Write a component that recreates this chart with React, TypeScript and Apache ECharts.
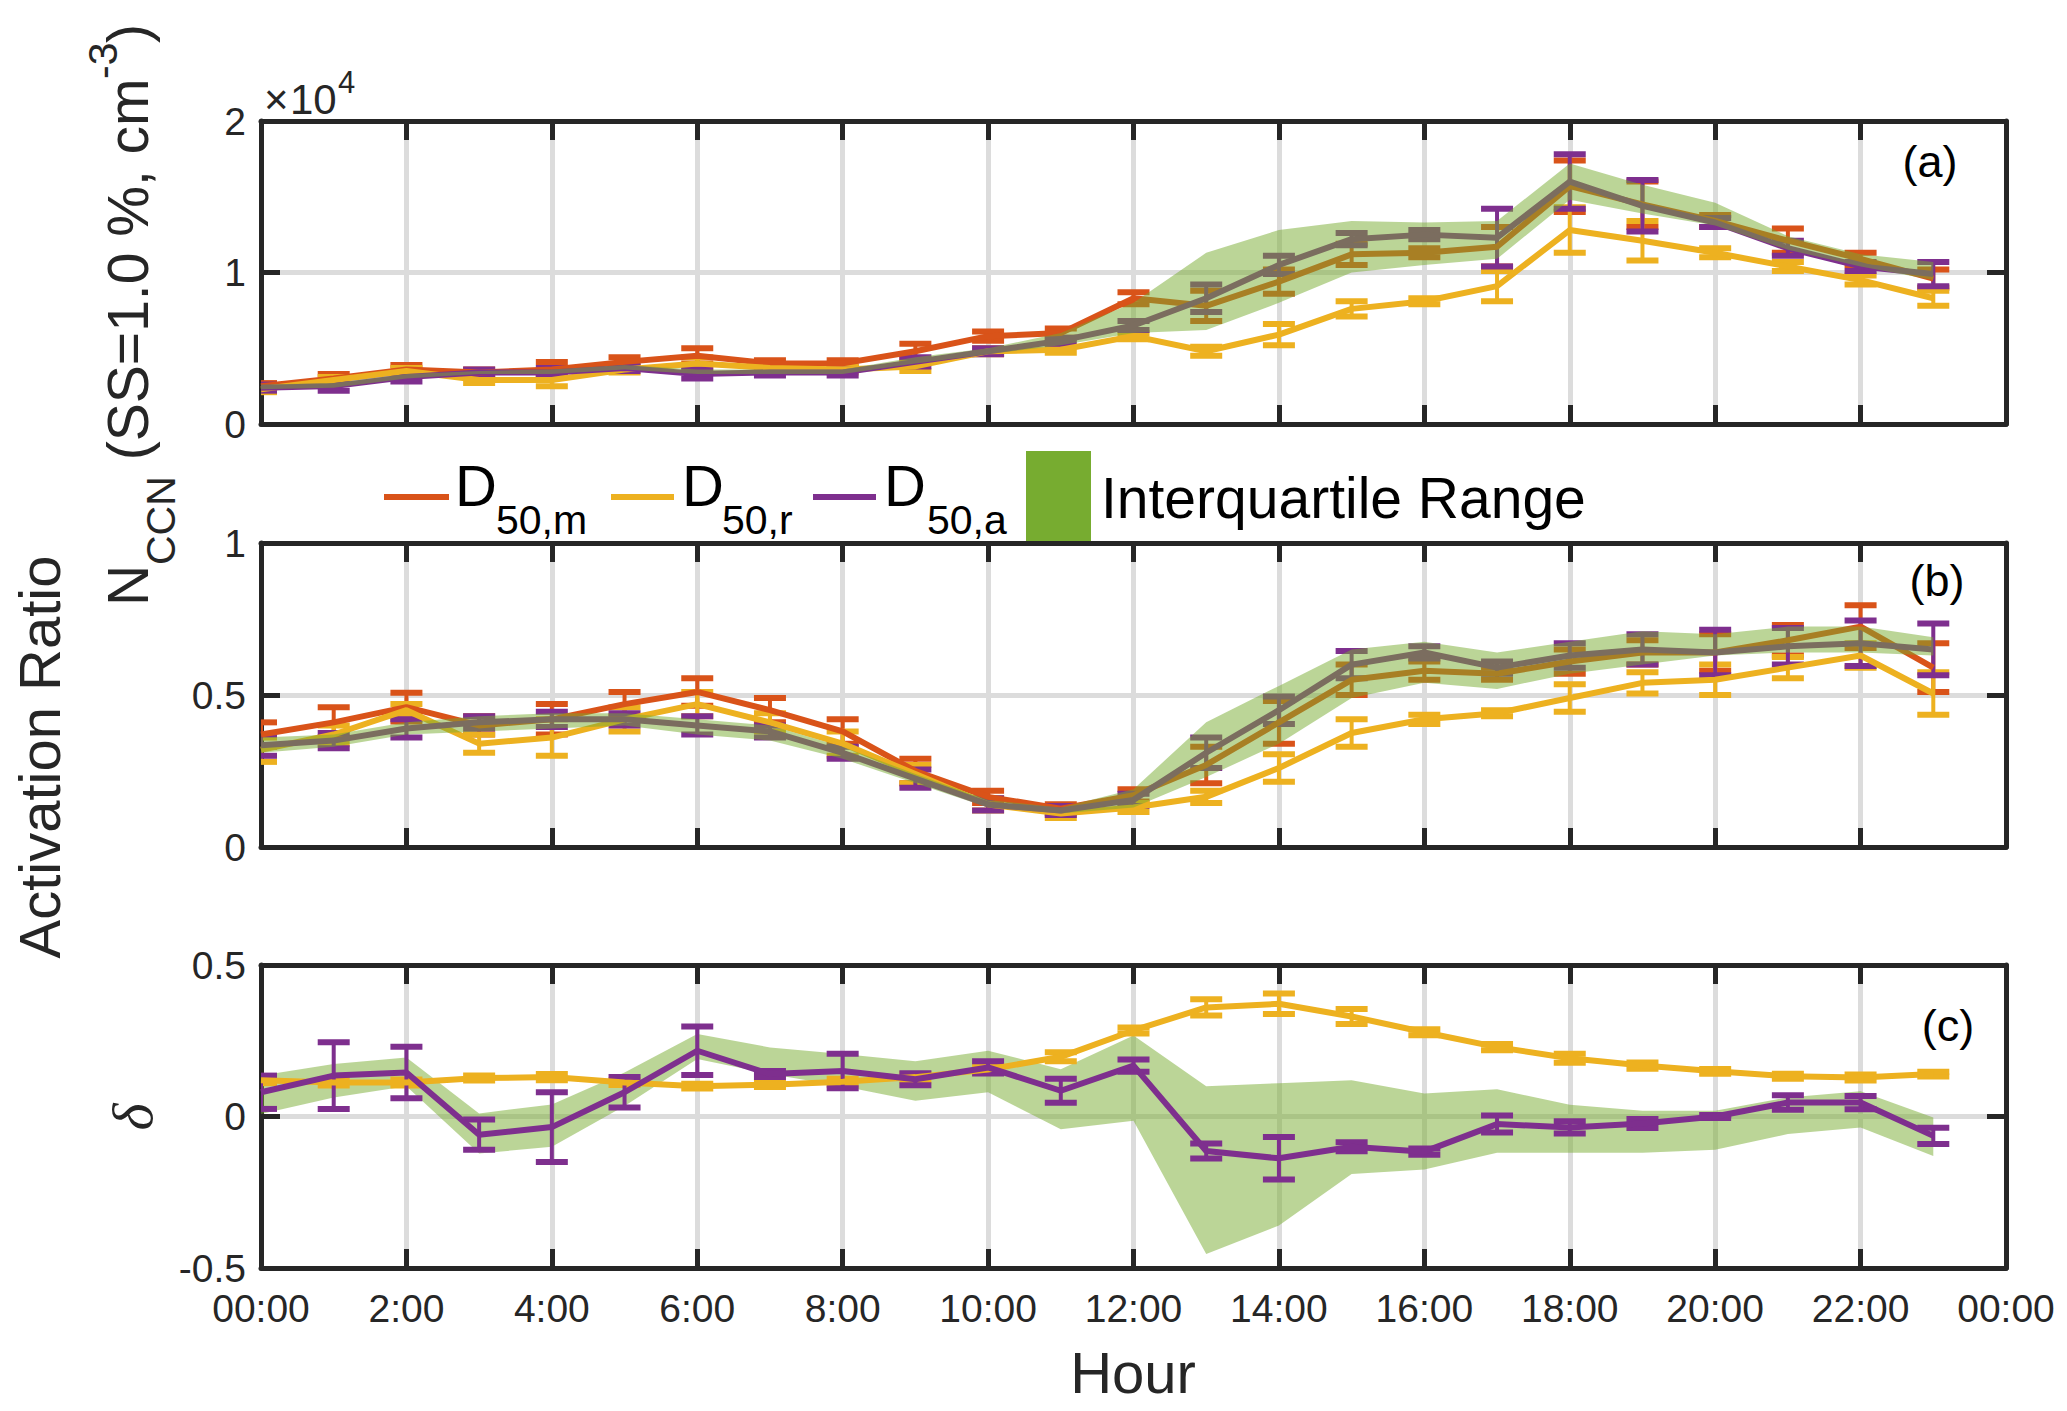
import React, { useEffect, useRef } from 'react';
import * as echarts from 'echarts';

// hours of day (x values)
const hours = [0, 1, 2, 3, 4, 5, 6, 7, 8, 9, 10, 11, 12, 13, 14, 15, 16, 17, 18, 19, 20, 21, 22, 23];
const hourLabels = ['00:00', '2:00', '4:00', '6:00', '8:00', '10:00', '12:00', '14:00', '16:00', '18:00', '20:00', '22:00', '00:00'];

// (a) N_CCN, cm^-3
const nccnM = [2500, 3000, 3600, 3400, 3600, 4100, 4500, 4000, 4000, 4800, 5800, 6000, 8300, 7800, 9400, 11200, 11300, 11700, 15700, 14500, 13400, 12100, 10900, 9600];
const nccnMErr = [200, 300, 300, 200, 500, 300, 500, 200, 200, 500, 300, 300, 400, 1000, 800, 700, 300, 1300, 1700, 1500, 400, 800, 400, 600];
const nccnR = [2300, 2900, 3500, 2900, 2900, 3600, 4000, 3700, 3600, 3800, 4800, 4900, 5800, 4800, 5900, 7600, 8100, 9100, 12800, 12100, 11300, 10400, 9500, 8300];
const nccnRErr = [200, 200, 200, 200, 400, 200, 400, 200, 200, 300, 200, 200, 200, 300, 700, 500, 200, 1000, 1500, 1300, 300, 300, 300, 500];
const nccnA = [2400, 2500, 3100, 3400, 3400, 3700, 3300, 3400, 3400, 4100, 4800, 5500, 6500, 8300, 10500, 12200, 12500, 12300, 16000, 14400, 13300, 11600, 10400, 9900];
const nccnAErr = [200, 300, 300, 200, 300, 200, 300, 200, 200, 300, 200, 200, 300, 900, 600, 400, 300, 1900, 1800, 1700, 300, 500, 300, 800];
const nccnLo = [2300, 2400, 3000, 3300, 3300, 3600, 3300, 3300, 3300, 4000, 4600, 5200, 6000, 6200, 8000, 10000, 10500, 10900, 14800, 13900, 13100, 11500, 10400, 9500];
const nccnHi = [2600, 2700, 3300, 3500, 3600, 3900, 3600, 3600, 3600, 4400, 5000, 6000, 8000, 11300, 12800, 13400, 13300, 13400, 17200, 15800, 14600, 12400, 11200, 10700];

// (b) activation ratio
const arM = [0.37, 0.41, 0.46, 0.4, 0.42, 0.47, 0.51, 0.45, 0.38, 0.25, 0.165, 0.126, 0.17, 0.27, 0.41, 0.55, 0.58, 0.57, 0.61, 0.64, 0.64, 0.68, 0.725, 0.59];
const arMErr = [0.04, 0.05, 0.047, 0.03, 0.05, 0.04, 0.045, 0.04, 0.04, 0.04, 0.02, 0.015, 0.02, 0.06, 0.07, 0.05, 0.03, 0.02, 0.04, 0.04, 0.06, 0.05, 0.07, 0.08];
const arR = [0.32, 0.37, 0.45, 0.34, 0.36, 0.42, 0.47, 0.41, 0.34, 0.24, 0.14, 0.11, 0.13, 0.165, 0.26, 0.375, 0.42, 0.44, 0.49, 0.54, 0.55, 0.59, 0.63, 0.505];
const arRErr = [0.04, 0.03, 0.02, 0.03, 0.06, 0.04, 0.04, 0.03, 0.04, 0.03, 0.02, 0.015, 0.015, 0.02, 0.045, 0.045, 0.015, 0.01, 0.045, 0.035, 0.05, 0.035, 0.04, 0.07];
const arA = [0.335, 0.35, 0.39, 0.41, 0.42, 0.42, 0.4, 0.38, 0.31, 0.225, 0.14, 0.12, 0.155, 0.31, 0.45, 0.6, 0.64, 0.59, 0.63, 0.65, 0.64, 0.66, 0.67, 0.65];
const arAErr = [0.035, 0.025, 0.03, 0.02, 0.025, 0.02, 0.03, 0.02, 0.02, 0.03, 0.02, 0.015, 0.02, 0.05, 0.045, 0.045, 0.02, 0.02, 0.04, 0.05, 0.075, 0.06, 0.075, 0.085];
const arLo = [0.31, 0.33, 0.37, 0.38, 0.39, 0.4, 0.37, 0.35, 0.29, 0.21, 0.13, 0.11, 0.13, 0.23, 0.34, 0.49, 0.54, 0.52, 0.57, 0.6, 0.63, 0.64, 0.64, 0.63];
const arHi = [0.36, 0.37, 0.41, 0.43, 0.44, 0.44, 0.42, 0.4, 0.33, 0.24, 0.155, 0.13, 0.19, 0.41, 0.53, 0.65, 0.675, 0.64, 0.675, 0.71, 0.7, 0.725, 0.725, 0.69];

// (c) delta
const deltaR = [0.12, 0.112, 0.112, 0.127, 0.13, 0.112, 0.1, 0.105, 0.115, 0.13, 0.155, 0.197, 0.284, 0.36, 0.372, 0.33, 0.278, 0.229, 0.192, 0.168, 0.149, 0.133, 0.129, 0.14];
const deltaRErr = [0.01, 0.01, 0.01, 0.008, 0.01, 0.008, 0.008, 0.008, 0.01, 0.01, 0.01, 0.015, 0.01, 0.027, 0.034, 0.025, 0.01, 0.01, 0.015, 0.01, 0.008, 0.008, 0.01, 0.008];
const deltaA = [0.08, 0.135, 0.145, -0.06, -0.035, 0.08, 0.217, 0.14, 0.15, 0.123, 0.162, 0.085, 0.168, -0.114, -0.138, -0.1, -0.116, -0.025, -0.036, -0.023, 0.0, 0.046, 0.046, -0.064];
const deltaAErr = [0.055, 0.11, 0.085, 0.05, 0.115, 0.05, 0.08, 0.01, 0.057, 0.02, 0.02, 0.04, 0.02, 0.025, 0.07, 0.015, 0.01, 0.028, 0.02, 0.015, 0.005, 0.024, 0.022, 0.027];
const deltaLo = [0.008, 0.063, 0.1, -0.122, -0.1, 0.035, 0.19, 0.14, 0.1, 0.052, 0.08, -0.042, -0.014, -0.454, -0.36, -0.19, -0.175, -0.12, -0.12, -0.12, -0.11, -0.058, -0.036, -0.13];
const deltaHi = [0.135, 0.173, 0.195, 0.01, 0.04, 0.145, 0.272, 0.228, 0.206, 0.182, 0.217, 0.156, 0.267, 0.1, 0.11, 0.12, 0.076, 0.09, 0.039, 0.019, 0.019, 0.063, 0.083, -0.003];

const RED = '#D95319';
const YELLOW = '#EDB120';
const PURPLE = '#7E2F8E';
const GREEN = '#77AC30';
const INK = '#262626';
const GRID = '#dcdcdc';
const FONT = 'Liberation Sans';

const grids = [
  { left: 261, top: 121, width: 1745, height: 303 },
  { left: 261, top: 543, width: 1745, height: 304 },
  { left: 261, top: 965, width: 1745, height: 303 },
];
const yRanges = [
  { min: 0, max: 20000, interval: 10000, fmt: (v: number) => String(v / 10000) },
  { min: 0, max: 1, interval: 0.5, fmt: (v: number) => String(v) },
  { min: -0.5, max: 0.5, interval: 0.5, fmt: (v: number) => String(v) },
];

const lineSeries = (g: number, ys: number[], color: string) => ({
  type: 'line',
  xAxisIndex: g * 2,
  yAxisIndex: g * 2,
  data: hours.map((h, i) => [h, ys[i]]),
  symbol: 'none',
  lineStyle: { color, width: 6 },
  z: 2,
  silent: true,
});

const errSeries = (g: number, ys: number[], errs: number[], color: string) => ({
  type: 'custom',
  xAxisIndex: g * 2,
  yAxisIndex: g * 2,
  clip: true,
  z: 2,
  silent: true,
  data: hours.map((h, i) => [h, ys[i] - errs[i], ys[i] + errs[i]]),
  renderItem: (params: any, api: any) => {
    const lo = api.coord([api.value(0), api.value(1)]);
    const hi = api.coord([api.value(0), api.value(2)]);
    const w = 16;
    return {
      type: 'group',
      children: [
        { type: 'line', shape: { x1: lo[0], y1: lo[1], x2: hi[0], y2: hi[1] }, style: { stroke: color, lineWidth: 4 } },
        { type: 'line', shape: { x1: lo[0] - w, y1: lo[1], x2: lo[0] + w, y2: lo[1] }, style: { stroke: color, lineWidth: 6 } },
        { type: 'line', shape: { x1: hi[0] - w, y1: hi[1], x2: hi[0] + w, y2: hi[1] }, style: { stroke: color, lineWidth: 6 } },
      ],
    };
  },
});

const bandSeries = (g: number, lo: number[], hi: number[], z: number) => ({
  type: 'custom',
  xAxisIndex: g * 2,
  yAxisIndex: g * 2,
  clip: true,
  z,
  silent: true,
  data: hours.map((h, i) => [h, lo[i], hi[i]]),
  renderItem: (params: any, api: any) => {
    if (params.dataIndex !== 0) return null;
    const top = hours.map((h, i) => api.coord([h, hi[i]]));
    const bottom = hours.map((h, i) => api.coord([h, lo[i]])).reverse();
    return {
      type: 'polygon',
      shape: { points: top.concat(bottom) },
      style: { fill: GREEN, opacity: 0.5 },
    };
  },
});

const txt = (x: number, y: number, text: string, size: number, extra: any = {}) => ({
  type: 'text',
  x,
  y,
  rotation: extra.rotation || 0,
  style: {
    text,
    x: 0,
    y: 0,
    fill: extra.fill || '#000',
    fontSize: size,
    fontFamily: extra.fontFamily || FONT,
    fontStyle: extra.fontStyle || 'normal',
    align: extra.align || 'center',
    verticalAlign: 'middle',
  },
});

const UP = { rotation: Math.PI / 2, align: 'left', fill: INK };

const App: React.FC = () => {
  const chartRef = useRef<HTMLDivElement>(null);

  useEffect(() => {
    if (!chartRef.current) return;
    document.body.style.margin = '0';
    const chart = echarts.init(chartRef.current, undefined, { renderer: 'svg' });

    const xAxis: any[] = [];
    const yAxis: any[] = [];
    grids.forEach((_, g) => {
      const common = {
        gridIndex: g,
        type: 'value',
        min: 0,
        max: 24,
        interval: 2,
        axisLine: { show: true, onZero: false, lineStyle: { color: INK, width: 5 } },
        axisTick: { show: true, inside: true, length: 19, lineStyle: { color: INK, width: 5 } },
      };
      xAxis.push({
        ...common,
        position: 'bottom',
        axisLabel: {
          show: g === 2,
          fontSize: 39,
          fontFamily: FONT,
          color: INK,
          margin: 21,
          formatter: (v: number) => hourLabels[Math.round(v / 2)],
        },
        splitLine: { show: true, lineStyle: { color: GRID, width: 5 } },
      });
      xAxis.push({ ...common, position: 'top', axisLabel: { show: false }, splitLine: { show: false } });

      const r = yRanges[g];
      const ycommon = {
        gridIndex: g,
        type: 'value',
        min: r.min,
        max: r.max,
        interval: r.interval,
        axisLine: { show: true, onZero: false, lineStyle: { color: INK, width: 5 } },
        axisTick: { show: true, inside: true, length: 19, lineStyle: { color: INK, width: 5 } },
      };
      yAxis.push({
        ...ycommon,
        position: 'left',
        axisLabel: { show: true, fontSize: 39, fontFamily: FONT, color: INK, margin: 15, formatter: r.fmt },
        splitLine: { show: true, lineStyle: { color: GRID, width: 5 } },
      });
      yAxis.push({ ...ycommon, position: 'right', axisLabel: { show: false }, splitLine: { show: false } });
    });

    const series: any[] = [
      lineSeries(0, nccnM, RED),
      errSeries(0, nccnM, nccnMErr, RED),
      lineSeries(0, nccnR, YELLOW),
      errSeries(0, nccnR, nccnRErr, YELLOW),
      lineSeries(0, nccnA, PURPLE),
      errSeries(0, nccnA, nccnAErr, PURPLE),
      bandSeries(0, nccnLo, nccnHi, 5),

      lineSeries(1, arM, RED),
      errSeries(1, arM, arMErr, RED),
      lineSeries(1, arR, YELLOW),
      errSeries(1, arR, arRErr, YELLOW),
      lineSeries(1, arA, PURPLE),
      errSeries(1, arA, arAErr, PURPLE),
      bandSeries(1, arLo, arHi, 5),

      bandSeries(2, deltaLo, deltaHi, 1),
      lineSeries(2, deltaR, YELLOW),
      errSeries(2, deltaR, deltaRErr, YELLOW),
      lineSeries(2, deltaA, PURPLE),
      errSeries(2, deltaA, deltaAErr, PURPLE),
    ];

    const graphic: any[] = [
      // exponent of panel (a)
      txt(264, 99, '×', 42, { align: 'left', fill: INK }),
      txt(290, 99, '10', 42, { align: 'left', fill: INK }),
      txt(338, 82, '4', 31, { align: 'left', fill: INK }),
      // panel tags
      txt(1930, 161, '(a)', 45),
      txt(1937, 580, '(b)', 45),
      txt(1948, 1025, '(c)', 45),
      // axis titles
      txt(1133, 1372, 'Hour', 58, { fill: INK }),
      txt(39, 757, 'Activation Ratio', 58, { rotation: Math.PI / 2, fill: INK }),
      txt(132, 1117, 'δ', 58, { rotation: Math.PI / 2, fill: INK, fontFamily: 'Liberation Serif', fontStyle: 'italic' }),
      // N_CCN (SS=1.0 %, cm^-3), read bottom to top
      txt(128, 606, 'N', 57, UP),
      txt(161, 565, 'CCN', 41, UP),
      txt(128, 476, ' (SS=1.0 %, cm', 57, UP),
      txt(103, 79, '-3', 41, UP),
      txt(128, 43, ')', 57, UP),
      // legend
      { type: 'rect', shape: { x: 1026, y: 451, width: 65, height: 92 }, style: { fill: GREEN } },
      { type: 'line', shape: { x1: 384, y1: 497, x2: 449, y2: 497 }, style: { stroke: RED, lineWidth: 6 } },
      { type: 'line', shape: { x1: 611, y1: 497, x2: 674, y2: 497 }, style: { stroke: YELLOW, lineWidth: 6 } },
      { type: 'line', shape: { x1: 813, y1: 497, x2: 876, y2: 497 }, style: { stroke: PURPLE, lineWidth: 6 } },
      txt(455, 485, 'D', 58, { align: 'left' }),
      txt(496, 520, '50,m', 41, { align: 'left' }),
      txt(682, 485, 'D', 58, { align: 'left' }),
      txt(722, 520, '50,r', 41, { align: 'left' }),
      txt(884, 485, 'D', 58, { align: 'left' }),
      txt(927, 520, '50,a', 41, { align: 'left' }),
      txt(1101, 498, 'Interquartile Range', 57, { align: 'left' }),
    ];

    const option: any = {
      animation: false,
      backgroundColor: '#fff',
      grid: grids.map((g) => ({ ...g, containLabel: false })),
      xAxis,
      yAxis,
      series,
      graphic,
    };

    chart.setOption(option);

    return () => {
      chart.dispose();
    };
  }, []);

  return <div ref={chartRef} style={{ width: 2067, height: 1411 }} />;
};

export default App;
